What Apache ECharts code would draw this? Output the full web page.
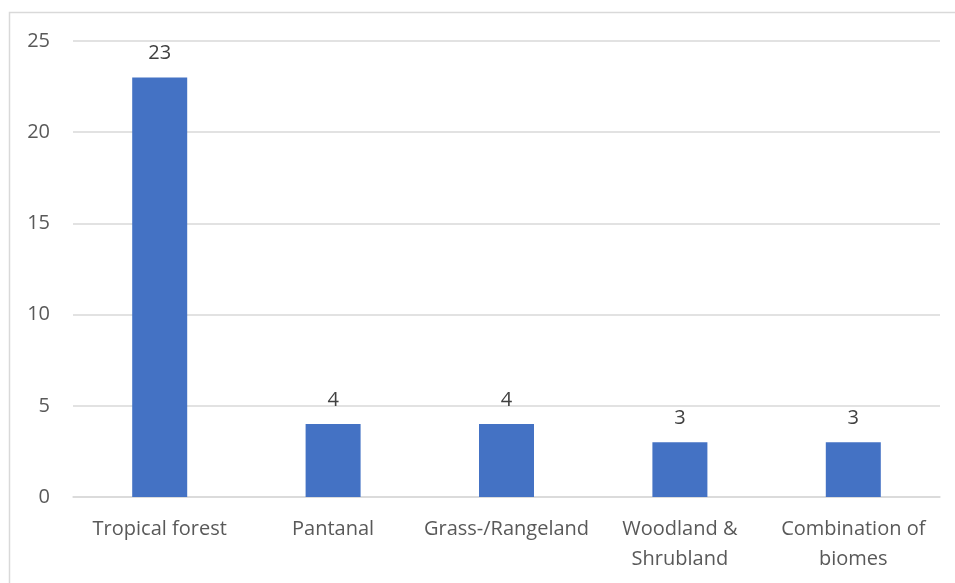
<!DOCTYPE html>
<html>
<head>
<meta charset="utf-8">
<script src="https://cdn.jsdelivr.net/npm/echarts@6/dist/echarts.min.js"></script>
<style>
  html, body { margin: 0; padding: 0; background: #ffffff; }
  #chart { width: 955px; height: 583px; }
</style>
</head>
<body>
<div id="chart"></div>
<script>
// Number of studies per biome
const biomes = ['Tropical forest', 'Pantanal', 'Grass-/Rangeland', 'Woodland &\nShrubland', 'Combination of\nbiomes'];
const studyCounts = [23, 4, 4, 3, 3];
const yTicks = { min: 0, max: 25, interval: 5 };

const axisTextColor = '#595959';
const labelTextColor = '#404040';
const fontFamily = '"Open Sans", "Noto Sans", sans-serif';

const chart = echarts.init(document.getElementById('chart'), null, { renderer: 'canvas' });
chart.setOption({
  animation: false,
  backgroundColor: '#ffffff',
  graphic: [{
    type: 'rect',
    shape: { x: 9.5, y: 12.5, width: 980, height: 620 },
    style: { fill: 'none', stroke: '#d9d9d9', lineWidth: 1.5 },
    silent: true
  }],
  grid: { left: 73, right: 15, top: 41, bottom: 86, containLabel: false },
  xAxis: {
    type: 'category',
    data: biomes,
    axisLine: { show: true, lineStyle: { color: '#d9d9d9', width: 1.5 } },
    axisTick: { show: false },
    axisLabel: {
      color: axisTextColor, fontSize: 20, fontFamily: fontFamily,
      margin: 17, lineHeight: 30, interval: 0
    }
  },
  yAxis: {
    type: 'value',
    min: yTicks.min, max: yTicks.max, interval: yTicks.interval,
    axisLine: { show: false },
    axisTick: { show: false },
    splitLine: { lineStyle: { color: '#d9d9d9', width: 1.5 } },
    axisLabel: { color: axisTextColor, fontSize: 20, fontFamily: fontFamily, margin: 23 }
  },
  series: [{
    type: 'bar',
    data: studyCounts,
    barWidth: 55,
    itemStyle: { color: '#4472C4' },
    label: {
      show: true, position: 'top', distance: 14,
      color: labelTextColor, fontSize: 20, fontFamily: fontFamily
    }
  }]
});
</script>
</body>
</html>
